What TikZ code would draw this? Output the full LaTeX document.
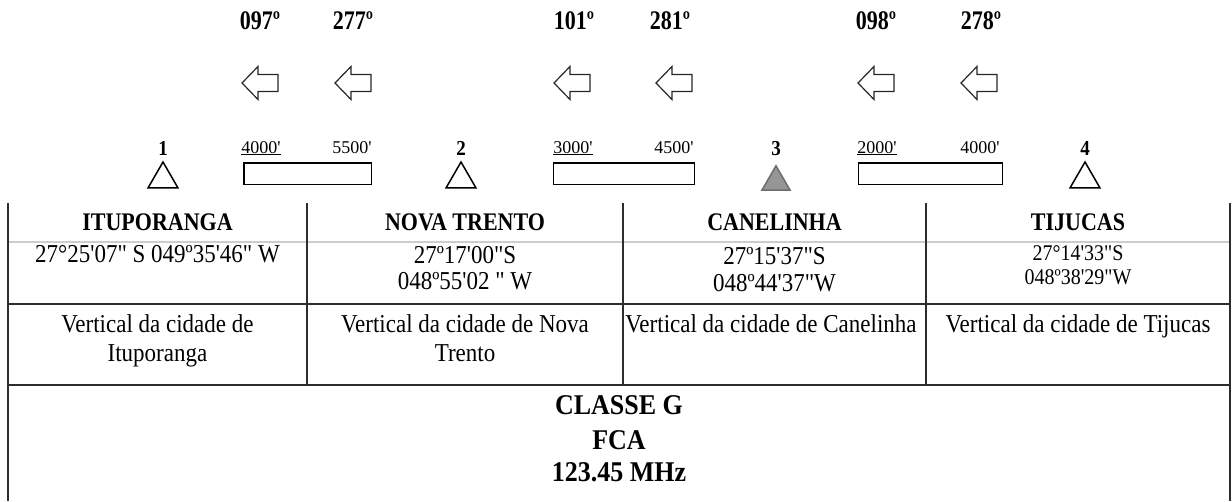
\documentclass[tikz,border=0pt]{standalone}
\usepackage{fontspec}
\setmainfont{Liberation Serif}[Ligatures=TeXOff]
\usetikzlibrary{shapes.geometric}
\definecolor{trifill}{RGB}{150,150,150}
\definecolor{tridraw}{RGB}{110,110,110}
\definecolor{gridline}{RGB}{45,45,45}
\definecolor{lightline}{RGB}{205,205,205}
\newcommand\vs[2][1.12]{\scalebox{1}[#1]{#2}}
\begin{document}
\begin{tikzpicture}[x=1pt,y=-1pt,
  body/.style={font=\fontsize{23}{28}\selectfont, inner sep=0pt, anchor=base},
  smallbody/.style={font=\fontsize{20}{24}\selectfont, inner sep=0pt, anchor=base},
  head/.style={font=\bfseries\fontsize{22}{26}\selectfont, inner sep=0pt, anchor=base},
  brg/.style={font=\bfseries\fontsize{22}{26}\selectfont, inner sep=0pt, anchor=base},
  alt/.style={font=\fontsize{18}{22}\selectfont, inner sep=0pt, anchor=base},
  num/.style={font=\bfseries\fontsize{19}{22}\selectfont, inner sep=0pt, anchor=base},
  big/.style={font=\bfseries\fontsize{26}{30}\selectfont, inner sep=0pt, anchor=base},
  station/.style={regular polygon, regular polygon sides=3, draw=black, line width=1.5pt, minimum size=34.6pt, inner sep=0pt},
  segbox/.style={draw=black, line width=1.5pt, minimum width=127.5pt, minimum height=21.5pt, inner sep=0pt},
  gridl/.style={draw=gridline, line width=1.4pt},
  openarrow/.pic={\draw[draw=black!85, line width=1.2pt, line join=miter]
     (0,0) -- (16,-16.5) -- (16,-8.5) -- (36,-8.5) -- (36,8.5) -- (16,8.5) -- (16,16.5) -- cycle;}
]
\useasboundingbox (0,0) rectangle (1232,501);

% bearings
\node[brg] (b1) at (260,29) {\vs[1.22]{097º}};
\node[brg] (b2) at (353,29) {\vs[1.22]{277º}};
\node[brg] (b3) at (574,29) {\vs[1.22]{101º}};
\node[brg] (b4) at (670,29) {\vs[1.22]{281º}};
\node[brg] (b5) at (876,29) {\vs[1.22]{098º}};
\node[brg] (b6) at (981,29) {\vs[1.22]{278º}};

% arrows
\pic at (242,83) {openarrow};
\pic at (335,83) {openarrow};
\pic at (554,83) {openarrow};
\pic at (656,83) {openarrow};
\pic at (858,83) {openarrow};
\pic at (961,83) {openarrow};

% station numbers
\node[num] (n1) at (163,155) {\vs{1}};
\node[num] (n2) at (461,155) {\vs{2}};
\node[num] (n3) at (776,155) {\vs{3}};
\node[num] (n4) at (1085,155) {\vs{4}};

% stations
\node[station] (s1) at (163,179.3) {};
\node[station] (s2) at (461,179.3) {};
\node[station, fill=trifill, draw=tridraw, minimum size=32.4pt] (s3) at (776,182) {};
\node[station] (s4) at (1085,179.3) {};

% altitude labels
\node[alt] (a1) at (261,153) {\underline{4000'}};
\node[alt] (a2) at (352,153) {5500'};
\node[alt] (a3) at (573,153) {\underline{3000'}};
\node[alt] (a4) at (674,153) {4500'};
\node[alt] (a5) at (877,153) {\underline{2000'}};
\node[alt] (a6) at (980,153) {4000'};

% segment boxes
\node[segbox] (seg1) at (307.5,173.5) {};
\node[segbox, minimum width=141pt] (seg2) at (624,173.5) {};
\node[segbox, minimum width=144pt] (seg3) at (930.5,173.5) {};

% table lines
\draw[draw=lightline, line width=1.2pt] (8,242) -- (1230,242);
\draw[gridl] (8,304) -- (1230,304);
\draw[gridl] (8,385) -- (1230,385);
\draw[gridl] (8,203) -- (8,501);
\draw[gridl] (1230,203) -- (1230,501);
\draw[gridl] (307,203) -- (307,385);
\draw[gridl] (623,203) -- (623,385);
\draw[gridl] (926,203) -- (926,385);

% headers
\node[head] (h1) at (157.5,230) {\vs[1.15]{ITUPORANGA}};
\node[head] (h2) at (465,230) {\vs[1.15]{NOVA TRENTO}};
\node[head] (h3) at (774.5,230) {\vs[1.15]{CANELINHA}};
\node[head] (h4) at (1078,230) {\vs[1.15]{TIJUCAS}};

% coordinates
\node[body] (c1) at (157.5,262) {\vs{27°25'07" S 049º35'46" W}};
\node[body] (c2a) at (465,263) {\vs{27º17'00"S}};
\node[body] (c2b) at (465,289) {\vs{048º55'02 " W}};
\node[body] (c3a) at (774.5,264) {\vs{27º15'37"S}};
\node[body] (c3b) at (774.5,291) {\vs{048º44'37"W}};
\node[smallbody] (c4a) at (1078,260) {\vs{27°14'33"S}};
\node[smallbody] (c4b) at (1078,284) {\vs{048º38'29"W}};

% descriptions
\node[body] (d1a) at (157.5,332) {\vs{Vertical da cidade de}};
\node[body] (d1b) at (157.5,361) {\vs{Ituporanga}};
\node[body] (d2a) at (465,332) {\vs{Vertical da cidade de Nova}};
\node[body] (d2b) at (465,361) {\vs{Trento}};
\node[body] (d3) at (771,332) {\vs{Vertical da cidade de Canelinha}};
\node[body] (d4) at (1078,332) {\vs{Vertical da cidade de Tijucas}};

% bottom
\node[big] (cl) at (619,414) {\vs[1.1]{CLASSE G}};
\node[big] (fca) at (619,449) {\vs[1.1]{FCA}};
\node[big] (fr) at (619,481) {\vs[1.1]{123.45 MHz}};
\end{tikzpicture}
\end{document}
